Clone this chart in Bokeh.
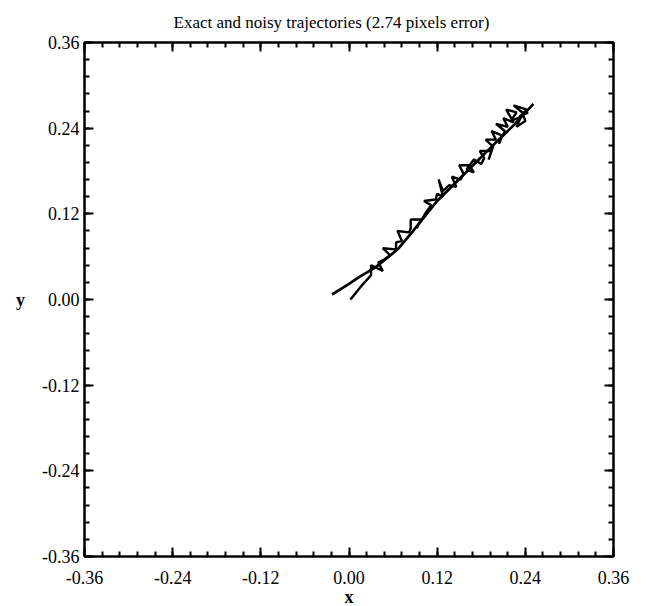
from bokeh.plotting import figure
from bokeh.models import LinearAxis, FixedTicker, PrintfTickFormatter, Range1d
from bokeh.embed import file_html
from bokeh.resources import INLINE

# tick values
major_ticks = [-0.36, -0.24, -0.12, 0.0, 0.12, 0.24, 0.36]
minor_ticks = [-0.36, -0.336, -0.312, -0.288, -0.264, -0.24, -0.216, -0.192, -0.168, -0.144,
               -0.12, -0.096, -0.072, -0.048, -0.024, 0.0, 0.024, 0.048, 0.072, 0.096,
               0.12, 0.144, 0.168, 0.192, 0.216, 0.24, 0.264, 0.288, 0.312, 0.336, 0.36]

# exact trajectory
exact_x = [-0.023, 0.000, 0.013, 0.036, 0.066, 0.084, 0.120, 0.161, 0.197, 0.225, 0.251]
exact_y = [0.007, 0.022, 0.031, 0.045, 0.070, 0.092, 0.138, 0.180, 0.217, 0.245, 0.274]

# noisy trajectory
noisy_x = [0.002, 0.016, 0.030, 0.030, 0.046, 0.040, 0.048, 0.056, 0.046, 0.064,
           0.064, 0.072, 0.066, 0.082, 0.084, 0.084, 0.098, 0.092, 0.098, 0.106,
           0.112, 0.102, 0.118, 0.120, 0.128, 0.122, 0.128, 0.136, 0.146, 0.140,
           0.152, 0.156, 0.150, 0.164, 0.170, 0.160, 0.170, 0.180, 0.184, 0.178,
           0.194, 0.190, 0.196, 0.186, 0.200, 0.194, 0.208, 0.204, 0.212, 0.200,
           0.216, 0.210, 0.224, 0.214, 0.228, 0.220, 0.234, 0.228, 0.240, 0.236,
           0.224, 0.242, 0.232, 0.244]
noisy_y = [0.000, 0.018, 0.034, 0.048, 0.040, 0.052, 0.056, 0.062, 0.072, 0.070,
           0.080, 0.082, 0.096, 0.094, 0.100, 0.112, 0.112, 0.100, 0.110, 0.124,
           0.132, 0.138, 0.140, 0.148, 0.144, 0.168, 0.152, 0.160, 0.158, 0.172,
           0.168, 0.176, 0.188, 0.188, 0.178, 0.182, 0.196, 0.190, 0.198, 0.208,
           0.208, 0.196, 0.214, 0.224, 0.224, 0.236, 0.230, 0.218, 0.236, 0.246,
           0.242, 0.254, 0.248, 0.266, 0.262, 0.250, 0.256, 0.242, 0.250, 0.262,
           0.272, 0.266, 0.256, 0.262]

SERIF = "Liberation Serif"

p = figure(width=633, height=612, output_backend="svg", toolbar_location=None,
           x_range=Range1d(-0.36, 0.36), y_range=Range1d(-0.36, 0.36),
           min_border_left=84, min_border_right=20, min_border_top=41, min_border_bottom=56,
           title="Exact and noisy trajectories (2.74 pixels error)")
p.title.align = "left"
p.title.offset = 89
p.title.standoff = 21
p.title.text_font = SERIF
p.title.text_font_size = "17px"
p.title.text_font_style = "normal"
p.title.text_color = "black"
p.grid.visible = False
p.outline_line_color = "black"
p.outline_line_width = 2
p.background_fill_color = "white"

p.line(exact_x, exact_y, line_color="black", line_width=2.7)
p.line(noisy_x, noisy_y, line_color="black", line_width=2.4)

ticker = FixedTicker(ticks=major_ticks, minor_ticks=minor_ticks)

def style(ax, labels=True):
    ax.ticker = ticker
    ax.axis_line_color = "black"
    ax.axis_line_width = 2
    ax.major_tick_in = 9
    ax.major_tick_out = 0
    ax.minor_tick_in = 5
    ax.minor_tick_out = 0
    ax.major_tick_line_width = 2
    ax.minor_tick_line_width = 2
    ax.major_tick_line_color = "black"
    ax.minor_tick_line_color = "black"
    if labels:
        ax.formatter = PrintfTickFormatter(format="%.2f")
        ax.major_label_text_font = SERIF
        ax.major_label_text_font_size = "18px"
        ax.major_label_text_color = "black"
        ax.axis_label_text_font = SERIF
        ax.axis_label_text_font_size = "18px"
        ax.axis_label_text_font_style = "bold"
        ax.axis_label_text_color = "black"
    else:
        ax.major_label_text_font_size = "0px"
        ax.major_label_standoff = 0

style(p.xaxis[0])
style(p.yaxis[0])
p.xaxis[0].axis_label = "x"
p.xaxis[0].major_label_standoff = 14
p.xaxis[0].axis_label_standoff = 0
p.yaxis[0].axis_label = "y"
p.yaxis[0].axis_label_orientation = "horizontal"
p.yaxis[0].major_label_standoff = 5
p.yaxis[0].axis_label_standoff = 14

top = LinearAxis()
right = LinearAxis()
style(top, labels=False)
style(right, labels=False)
p.add_layout(top, "above")
p.add_layout(right, "right")

open("out.html", "w").write(file_html(p, INLINE))
